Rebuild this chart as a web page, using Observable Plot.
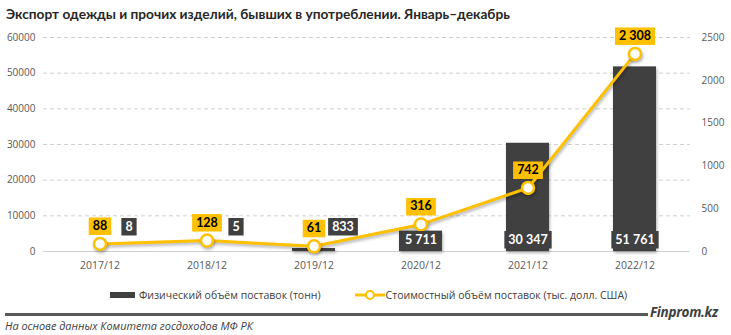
<!DOCTYPE html>
<html><head><meta charset="utf-8">
<script src="https://cdn.jsdelivr.net/npm/d3@7"></script>
<script src="https://cdn.jsdelivr.net/npm/@observablehq/plot@0.6"></script>
<style>
body{margin:0;background:#fff;width:731px;height:335px;overflow:hidden;position:relative;font-family:"Open Sans",sans-serif}
#title{position:absolute;left:6px;top:5px;font-family:Lato,sans-serif;font-weight:bold;font-size:13.7px;color:#262626;white-space:nowrap}
#chart{position:absolute;left:0;top:22px}
#legend{position:absolute;left:110px;top:287px;display:flex;align-items:center;font-size:10.5px;color:#404040;white-space:nowrap;height:16px}
#legend .sw{width:25px;height:6px;background:#404040;margin-right:4px}
#legend svg{margin-left:34px;margin-right:1px}
#sep{position:absolute;left:5px;top:313px;width:643px;height:2.5px;background:#595959}
#brand{position:absolute;left:650px;top:303px;font-weight:bold;font-style:italic;font-size:13.5px;color:#404040;letter-spacing:-0.3px}
#caption{position:absolute;left:5px;top:318px;font-style:italic;font-size:10.9px;color:#404040;white-space:nowrap}
</style>
</head><body>
<div id="title">Экспорт одежды и прочих изделий, бывших в употреблении. Январь–декабрь</div>
<div id="chart"></div>
<div id="legend"><div class="sw"></div><span id="l1">Физический объём поставок (тонн)</span>
<svg width="30" height="12"><line x1="0" y1="6" x2="30" y2="6" stroke="#FFC000" stroke-width="3"/><circle cx="15" cy="6" r="4" fill="#fff" stroke="#FFC000" stroke-width="2"/></svg><span id="l2">Стоимостный объём поставок (тыс. долл. США)</span></div>
<div id="sep"></div>
<div id="brand">Finprom.kz</div>
<div id="caption">На основе данных Комитета госдоходов МФ РК</div>
<script>
const years = ["2017/12","2018/12","2019/12","2020/12","2021/12","2022/12"];
const tonnes = [8, 5, 833, 5711, 30347, 51761];
const usd = [88, 128, 61, 316, 742, 2308];
const leftTicks = [0, 10000, 20000, 30000, 40000, 50000, 60000];
const rightTicks = [0, 500, 1000, 1500, 2000, 2500];

const k = 60000 / 2500;
const data = years.map((y, i) => ({year: y, t: tonnes[i], v: usd[i]}));
const small = data.filter(d => d.t < 1000);
const big = data.filter(d => d.t >= 1000);
const fmt = d3.formatLocale({thousands: "\u00a0", grouping: [3], decimal: ","}).format(",d");
const labFont = "Lato, 'Open Sans', sans-serif";
const YEL = "#FFC000", DARK = "#404040";

const chart = Plot.plot({
  width: 731, height: 258,
  marginTop: 15, marginBottom: 29, marginLeft: 43, marginRight: 41,
  style: {fontFamily: "'Open Sans', sans-serif", background: "#fff"},
  x: {domain: years, paddingInner: 0.6, paddingOuter: 0.3, label: null},
  y: {domain: [0, 60000], label: null},
  marks: [
    Plot.gridY(leftTicks.filter(d => d > 0), {stroke: "#d0d0d0", strokeOpacity: 1, strokeDasharray: "4,3"}),
    Plot.ruleY([0], {stroke: "#d0d0d0"}),
    Plot.axisY(leftTicks, {anchor: "left", tickSize: 0, tickPadding: 8, label: null, tickFormat: d => String(d), fill: "#595959", fontSize: 10}),
    Plot.axisY(rightTicks.map(d => d * k), {anchor: "right", tickSize: 0, tickPadding: 11, label: null, tickFormat: d => String(Math.round(d / k)), fill: "#595959", fontSize: 10}),
    Plot.axisX({tickSize: 0, tickPadding: 10, label: null, fill: "#595959", fontSize: 10.5}),
    Plot.barY(data, {x: "year", y: "t", fill: DARK}),
    Plot.line(data, {x: "year", y: d => d.v * k, stroke: YEL, strokeWidth: 3}),
    Plot.dot(data, {x: "year", y: d => d.v * k, r: 6, fill: "white", stroke: YEL, strokeWidth: 2.5}),
    Plot.text(data, {x: "year", y: d => d.v * k, text: d => fmt(d.v), dy: -18, fill: "#000", fontWeight: "bold", fontSize: 12.5, fontFamily: labFont}),
    Plot.text(small, {x: "year", y: () => 0, text: d => fmt(d.t), dx: 29, dy: -25, fill: "#fff", fontWeight: "bold", fontSize: 12.5, fontFamily: labFont}),
    Plot.text(big, {x: "year", y: () => 0, text: d => fmt(d.t), dy: -12, fill: "#fff", fontWeight: "bold", fontSize: 12.5, fontFamily: labFont})
  ]
});
document.getElementById("chart").append(chart);

chart.querySelectorAll('g[aria-label="text"]').forEach(g => {
  const f = g.getAttribute("fill");
  const color = f === "#000" ? YEL : f === "#fff" ? DARK : null;
  if (!color) return;
  g.querySelectorAll("text").forEach(t => {
    const b = t.getBBox();
    const r = document.createElementNS("http://www.w3.org/2000/svg", "rect");
    r.setAttribute("x", b.x - 4);
    r.setAttribute("y", b.y - 0.5);
    r.setAttribute("width", b.width + 8);
    r.setAttribute("height", b.height + 2.5);
    r.setAttribute("fill", color);
    r.setAttribute("transform", t.getAttribute("transform") || "");
    t.parentNode.insertBefore(r, t);
  });
});
chart.querySelectorAll('g[aria-label="line"], g[aria-label="dot"], g[aria-label="bar"]').forEach(g => {
  g.style.filter = "drop-shadow(1px 2px 1.5px rgba(0,0,0,0.3))";
});
</script>
</body></html>
